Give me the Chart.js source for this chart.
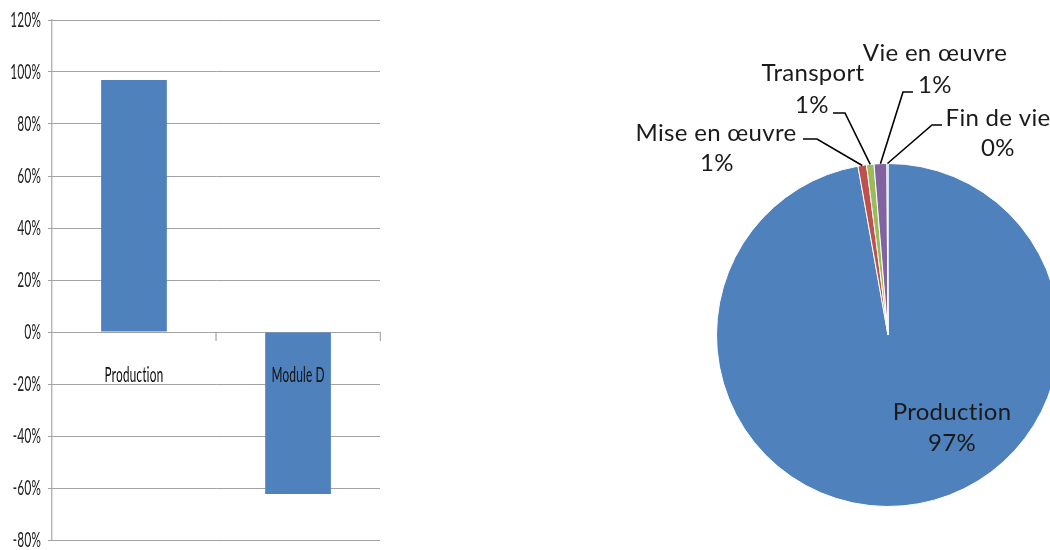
<!DOCTYPE html>
<html lang="fr">
<head>
<meta charset="UTF-8">
<title>Production / Module D</title>
<script src="https://cdn.jsdelivr.net/npm/chart.js"></script>
<style>
    html, body { margin: 0; padding: 0; background: #fff; overflow: hidden; width: 1050px; height: 550px; }
    /* the left chart is squeezed horizontally, like in the original picture */
    #bar-wrap { position: absolute; left: 0; top: 0; transform: scaleX(0.54); transform-origin: 0 0; }
    #pie-wrap { position: absolute; left: 600px; top: 0; }
</style>
</head>
<body>
<div id="bar-wrap"><canvas id="bar-chart" width="741" height="550"></canvas></div>
<div id="pie-wrap"><canvas id="pie-chart" width="576" height="550"></canvas></div>

<script>
// bar chart data (percent)
var barLabels = ['Production', 'Module D'];
var barValues = [96.9, -62.3];
var yTicks = [-80, -60, -40, -20, 0, 20, 40, 60, 80, 100, 120];

// pie chart data (percent)
var pieLabels = ['Production', 'Mise en œuvre', 'Transport', 'Vie en œuvre', 'Fin de vie'];
var pieValues = [97.2, 0.8, 0.7, 1.2, 0.1];
var pieColors = ['#4F81BD', '#C0504D', '#9BBB59', '#8064A2', '#4BACC6'];

var gridGrey = '#a3a3a3';

// small letter spacing keeps Lato from using its "ti" / "fi" ligatures
var noLigatures = {
    id: 'noLigatures',
    beforeDraw: function(chart) { chart.ctx.letterSpacing = '0.3px'; }
};

// Bar chart
var barCtx = document.getElementById('bar-chart').getContext('2d');
new Chart(barCtx, {
    type: 'bar',
    data: {
        labels: barLabels,
        datasets: [{
            data: barValues,
            backgroundColor: '#4F81BD',
            borderWidth: 0,
            barPercentage: 0.5,
            categoryPercentage: 0.8
        }]
    },
    options: {
        responsive: false,
        animation: false,
        layout: { padding: { top: 20, right: 37, bottom: 10, left: 0 } },
        plugins: { legend: { display: false }, tooltip: { enabled: false } },
        scales: {
            x: {
                position: { y: 0 },
                offset: true,
                grid: { drawOnChartArea: false, tickLength: 8, color: gridGrey, lineWidth: 2, offset: true },
                border: { color: gridGrey, width: 1 },
                // labels drawn over the bars, as in the original
                ticks: { z: 1, padding: 22, color: '#111', font: { family: 'Lato', size: 22 } }
            },
            y: {
                min: yTicks[0],
                max: yTicks[yTicks.length - 1],
                ticks: {
                    stepSize: yTicks[1] - yTicks[0],
                    padding: 13,
                    color: '#222',
                    font: { family: 'Lato', size: 22 },
                    callback: function(v) { return v + '%'; }
                },
                grid: { color: gridGrey, lineWidth: 1, tickLength: 7 },
                border: { color: gridGrey, width: 2 },
                afterFit: function(scale) {
                    scale.width = 96;
                    scale.paddingTop = 0;
                    scale.paddingBottom = 0;
                }
            }
        }
    },
    plugins: [noLigatures]
});

// label placement for the pie, offsets from the pie centre
var pieLabelSpots = [
    { l1: [64, 77], l2: [64, 108] },
    { l1: [-172, -202], l2: [-171, -172], line: [[-85, -196], [-71, -196]] },
    { l1: [-75, -262], l2: [-76, -230], line: [[-55, -222], [-43, -222]] },
    { l1: [47, -282], l2: [47, -250], line: [[25, -243], [15, -243]] },
    { l1: [110, -217], l2: [110, -187], line: [[54, -210], [44, -210]] }
];

var pieLabelPlugin = {
    id: 'pieLabels',
    afterDraw: function(chart) {
        var ctx = chart.ctx;
        var arcs = chart.getDatasetMeta(0).data;
        ctx.save();
        ctx.font = '24px Lato';
        ctx.letterSpacing = '0.3px';
        ctx.textAlign = 'center';
        ctx.textBaseline = 'middle';
        ctx.fillStyle = '#1a1a1a';
        ctx.strokeStyle = '#000';
        ctx.lineWidth = 1.6;
        arcs.forEach(function(arc, i) {
            var spot = pieLabelSpots[i];
            var cx = arc.x, cy = arc.y;
            if (spot.line) {
                var mid = (arc.startAngle + arc.endAngle) / 2;
                var ax = cx + Math.cos(mid) * arc.outerRadius;
                var ay = cy + Math.sin(mid) * arc.outerRadius;
                ctx.beginPath();
                ctx.moveTo(cx + spot.line[0][0], cy + spot.line[0][1]);
                ctx.lineTo(cx + spot.line[1][0], cy + spot.line[1][1]);
                ctx.lineTo(ax, ay);
                ctx.stroke();
            }
            ctx.fillText(pieLabels[i], cx + spot.l1[0], cy + spot.l1[1]);
            ctx.fillText(Math.round(pieValues[i]) + '%', cx + spot.l2[0], cy + spot.l2[1]);
        });
        ctx.restore();
    }
};

// Pie chart
var pieCtx = document.getElementById('pie-chart').getContext('2d');
new Chart(pieCtx, {
    type: 'pie',
    data: {
        labels: pieLabels,
        datasets: [{
            data: pieValues,
            backgroundColor: pieColors,
            borderColor: '#ffffff',
            borderWidth: 1
        }]
    },
    options: {
        responsive: false,
        animation: false,
        layout: { padding: { top: 163, bottom: 43, left: 0, right: 0 } },
        plugins: { legend: { display: false }, tooltip: { enabled: false } }
    },
    plugins: [pieLabelPlugin]
});
</script>
</body>
</html>
